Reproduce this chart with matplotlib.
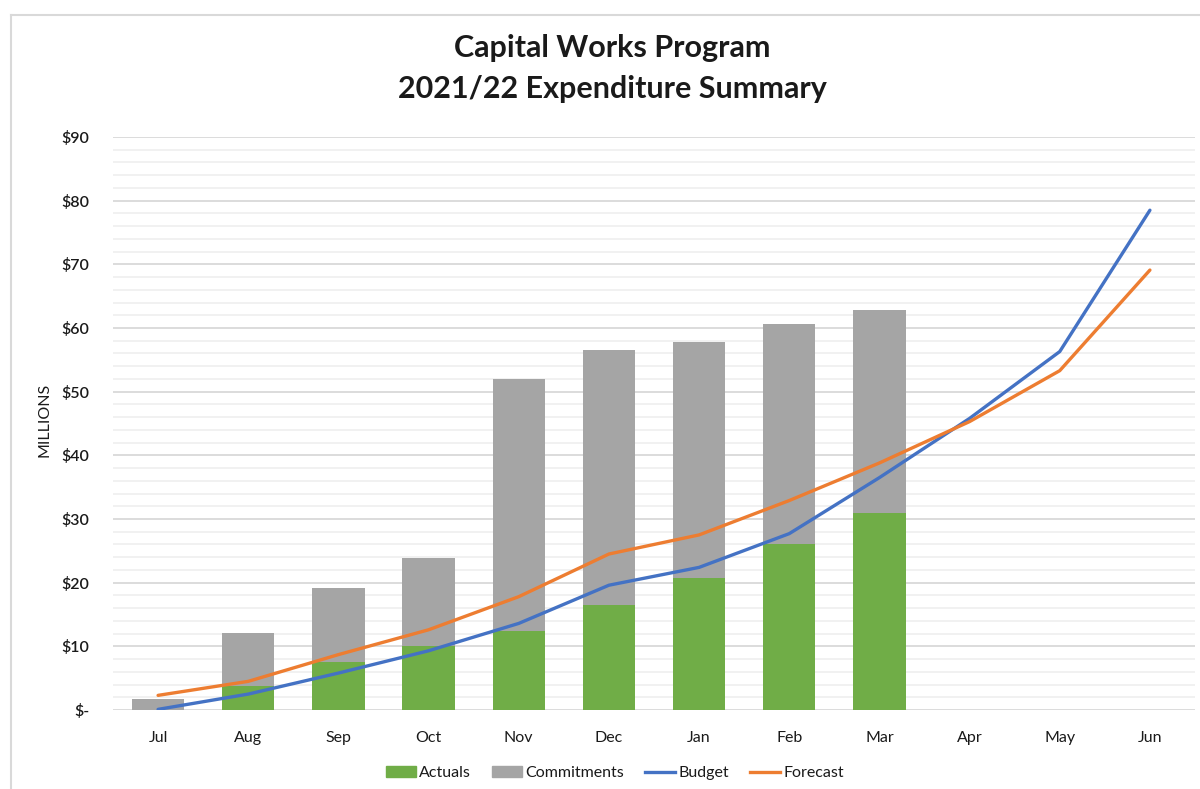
import matplotlib
matplotlib.use("Agg")
import matplotlib.pyplot as plt
import numpy as np
from matplotlib.patches import Patch
from matplotlib.lines import Line2D
from matplotlib.ticker import MultipleLocator, FuncFormatter

months = ["Jul", "Aug", "Sep", "Oct", "Nov", "Dec", "Jan", "Feb", "Mar", "Apr", "May", "Jun"]
actuals = [0.0, 3.8, 7.6, 10.0, 12.4, 16.5, 20.8, 26.0, 30.9]
commitments = [1.8, 8.3, 11.6, 13.9, 39.6, 40.0, 37.0, 34.7, 32.0]
budget = [0.1, 2.5, 5.8, 9.3, 13.6, 19.6, 22.4, 27.7, 36.5, 45.8, 56.3, 78.5]
forecast = [2.3, 4.5, 8.7, 12.6, 17.8, 24.5, 27.5, 32.9, 38.8, 45.3, 53.3, 69.1]

GREEN = "#70AD47"
GREY = "#A5A5A5"
BLUE = "#4472C4"
ORANGE = "#ED7D31"
TEXT = "#1a1a1a"

plt.rcParams["font.family"] = ["Lato", "DejaVu Sans"]

fig = plt.figure(figsize=(12, 7.89), dpi=100)
ax = fig.add_axes([113 / 1200, 1 - 710 / 789, (1195 - 113) / 1200, (710 - 137) / 789])

x = np.arange(len(months))
xb = x[:len(actuals)]
w = 0.58
ax.bar(xb, actuals, width=w, color=GREEN, zorder=2)
ax.bar(xb, commitments, width=w, bottom=actuals, color=GREY, zorder=2)
ax.plot(x, budget, color=BLUE, lw=2.4, zorder=3, solid_capstyle="round")
ax.plot(x, forecast, color=ORANGE, lw=2.4, zorder=3, solid_capstyle="round")

ax.set_xlim(-0.5, len(months) - 0.5)
ax.set_ylim(0, 90)
ax.yaxis.set_major_locator(MultipleLocator(10))
ax.yaxis.set_minor_locator(MultipleLocator(2))
ax.yaxis.set_major_formatter(FuncFormatter(lambda v, p: "$-" if v == 0 else f"${v:.0f}"))
ax.grid(axis="y", which="major", color="#d9d9d9", lw=1.3, zorder=0)
ax.grid(axis="y", which="minor", color="#f0f0f0", lw=1.3, zorder=0)
ax.set_axisbelow(True)
for s in ax.spines.values():
    s.set_visible(False)
ax.tick_params(axis="both", which="both", length=0)
ax.tick_params(axis="y", pad=17, labelsize=11.5, labelcolor=TEXT)
ax.tick_params(axis="x", pad=15, labelsize=11.5, labelcolor=TEXT)
ax.set_xticks(x)
ax.set_xticklabels(months)
for lab in ax.get_yticklabels():
    lab.set_fontweight("semibold")

fig.text(45 / 1200, 1 - 420 / 789, "MILLIONS", rotation=90, ha="center", va="center",
         fontsize=11.5, color=TEXT)

fig.text(612 / 1200, 1 - 48 / 789, "Capital Works Program", ha="center", va="center",
         fontsize=22, fontweight="bold", color=TEXT)
fig.text(612 / 1200, 1 - 89 / 789, "2021/22 Expenditure Summary", ha="center", va="center",
         fontsize=22, fontweight="bold", color=TEXT)

handles = [Patch(color=GREEN), Patch(color=GREY),
           Line2D([], [], color=BLUE, lw=2.4), Line2D([], [], color=ORANGE, lw=2.4)]
fig.legend(handles, ["Actuals", "Commitments", "Budget", "Forecast"], loc="center",
           bbox_to_anchor=(615 / 1200, 1 - 773 / 789), ncol=4, frameon=False,
           fontsize=11.5, handlelength=1.9, handleheight=0.75, handletextpad=0.2,
           columnspacing=1.3, labelcolor=TEXT)

# light chart-area frame
fig.add_artist(Line2D([11 / 1200, 11 / 1200], [0, 1 - 15 / 789], transform=fig.transFigure,
                      color="#d9d9d9", lw=1.5))
fig.add_artist(Line2D([11 / 1200, 1], [1 - 15 / 789, 1 - 15 / 789], transform=fig.transFigure,
                      color="#d9d9d9", lw=1.5))

fig.savefig("out.png", dpi=100, facecolor="white")
